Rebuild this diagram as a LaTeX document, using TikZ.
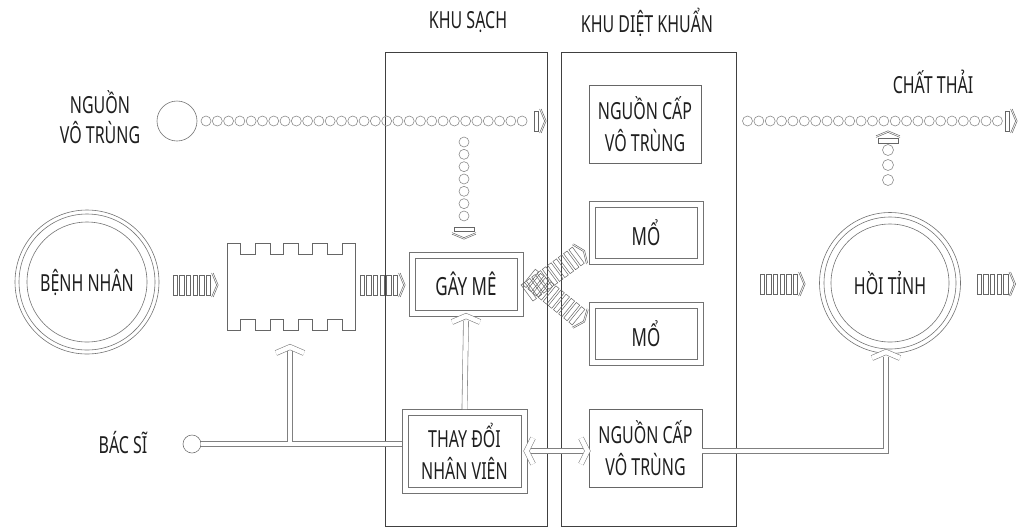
\documentclass[tikz,border=0pt]{standalone}
\usepackage{fontspec}
\setmainfont{Noto Sans}[FakeStretch=0.68]
\usetikzlibrary{calc}
\begin{document}
\begin{tikzpicture}[x=1pt,y=-1pt,
  lbl/.style={font=\fontsize{23.5}{30}\selectfont, text=black!88, align=center, inner sep=0pt},
  big/.style={font=\fontsize{25}{31}\selectfont},
  two/.style={font=\fontsize{23.5}{32}\selectfont},
  zone/.style={draw=black!75, line width=0.6pt, inner sep=0pt},
  boxline/.style={draw=black!55, line width=0.6pt},
  dbox/.style={boxline, inner sep=0pt, lbl},
  sbox/.style={draw=black!60, line width=0.7pt, inner sep=0pt, lbl},
  ring/.style={draw=black!55, line width=0.6pt},
  pipe/.style={draw=black!50, double=white, double distance=4.5pt, line width=0.6pt},
  dot/.style={draw=black!45, line width=0.6pt},
  hatch/.style={draw=black!60, line width=0.5pt},
  pics/harrow/.style={code={
    \foreach \i in {1,...,#1}{\draw[hatch] ({(\i-1)*6.6},-10) rectangle ++(4.4,20);}
    \draw[hatch] ({#1*6.6-1},-12) -- ({#1*6.6+4},0) -- ({#1*6.6-1},12);
    \draw[hatch] ({#1*6.6+0.6},-12) -- ({#1*6.6+5.6},0) -- ({#1*6.6+0.6},12);
  }}
]
\useasboundingbox (0,0) rectangle (1018,531);

% zones
\node[zone, minimum width=162pt, minimum height=474pt] (sach) at (466,289) {};
\node[zone, minimum width=175pt, minimum height=474pt] (diet) at (648.5,289) {};
\node[lbl] (tsach) at (468,22) {KHU SẠCH};
\node[lbl] (tdiet) at (647,22) {KHU DIỆT KHUẨN};

% labels
\node[lbl] (nvt) at (100,117) {NGUỒN\\VÔ TRÙNG};
\node[lbl] (ct) at (933,82) {CHẤT THẢI};
\node[lbl] (bs) at (123,443) {BÁC SĨ};

% boxes
\node[sbox, two, minimum width=112pt, minimum height=78pt] (ncap1) at (645,124) {NGUỒN CẤP\\VÔ TRÙNG};
\node[sbox, two, minimum width=113pt, minimum height=78pt] (ncap2) at (645.5,448) {NGUỒN CẤP\\VÔ TRÙNG};
\node[dbox, big, minimum width=102pt, minimum height=52pt] (gay) at (466,284) {GÂY MÊ};
\node[dbox, big, minimum width=102pt, minimum height=51pt] (mo1) at (646,232.5) {MỔ};
\node[dbox, big, minimum width=102pt, minimum height=51pt] (mo2) at (646,333.5) {MỔ};
\node[dbox, two, minimum width=113pt, minimum height=72pt] (thay) at (464.5,451) {THAY ĐỔI\\NHÂN VIÊN};
\foreach \n in {gay,mo1,mo2,thay}{
  \draw[boxline] ([xshift=-5.5pt,yshift=5.5pt]\n.north west) rectangle ([xshift=5.5pt,yshift=-5.5pt]\n.south east);
}

% circles
\node[circle, ring, minimum size=120pt, inner sep=0pt, lbl] (benh) at (87,282) {BỆNH NHÂN};
\draw[ring] (benh.center) circle (68) circle (72);
\node[circle, ring, minimum size=118pt, inner sep=0pt, lbl] (hoi) at (890,283) {HỒI TỈNH};
\draw[ring] (hoi.center) circle (66) circle (70.5);

% castellated block
\coordinate (castS) at (290,351);
\draw[hatch, line width=0.6pt] (227,243) -- (240,243) -- (240,254) -- (255,254) -- (255,243) -- (270,243) -- (270,254) -- (283,254) -- (283,243) -- (298,243) -- (298,254) -- (312,254) -- (312,243) -- (327,243) -- (327,254) -- (342,254) -- (342,243) -- (355,243)
 -- (355,330) -- (342,330) -- (342,319) -- (327,319) -- (327,330) -- (312,330) -- (312,319) -- (298,319) -- (298,330) -- (283,330) -- (283,319) -- (270,319) -- (270,330) -- (255,330) -- (255,319) -- (240,319) -- (240,330) -- (227,330) -- cycle;

% sterile source and dotted lines
\node[circle, draw=black!55, line width=0.6pt, minimum size=40pt, inner sep=0pt] (src) at (177,121) {};
\foreach \k in {0,...,28}{\draw[dot] ({206+\k*11.29},121) circle (5);}
\pic at (534,121) {harrow=1};
\foreach \k in {0,...,6}{\draw[dot] (464,{142+\k*12.33}) circle (5);}
\pic[rotate=-90] at (464,227) {harrow=1};
\foreach \k in {0,...,22}{\draw[dot] ({747.5+\k*11.36},121) circle (5);}
\pic at (1005,121) {harrow=1};
\foreach \k in {0,...,2}{\draw[dot] (888,{150+\k*15}) circle (5.5);}
\pic[rotate=90] at (888,143) {harrow=1};

% hatched flow arrows
\pic at (173,285) {harrow=6};
\pic at (360,285) {harrow=6};
\pic at (760,284) {harrow=6};
\pic at (977,284) {harrow=5};
\pic[rotate=36.4] at (527,293) {harrow=10};
\pic[rotate=-39] at (529,277) {harrow=10};

% doctor line and staff connectors
\node[circle, draw=black!55, line width=0.6pt, minimum size=18pt, inner sep=0pt] (bsc) at (192,444) {};
\draw[pipe] (bsc.east) -- ([xshift=-5.5pt]thay.west |- bsc.east) (castS |- bsc.east) -- (castS);
\draw[pipe] (276,353) -- (290,347) -- (304,353);
\draw[pipe] ([yshift=5.5pt]thay.north) -- (466,321);
\draw[pipe] (452,322) -- (466,316) -- (480,322);
\draw[pipe] (531,451) -- (584,451);
\draw[pipe] (533,438) -- (526.5,451) -- (533,464);
\draw[pipe] (581,438) -- (587.5,451) -- (581,464);
\draw[pipe] (ncap2.east |- 0,451) -- (886,451) -- (886,357);
\draw[pipe] (872,358) -- (886,352) -- (900,358);
\end{tikzpicture}
\end{document}
